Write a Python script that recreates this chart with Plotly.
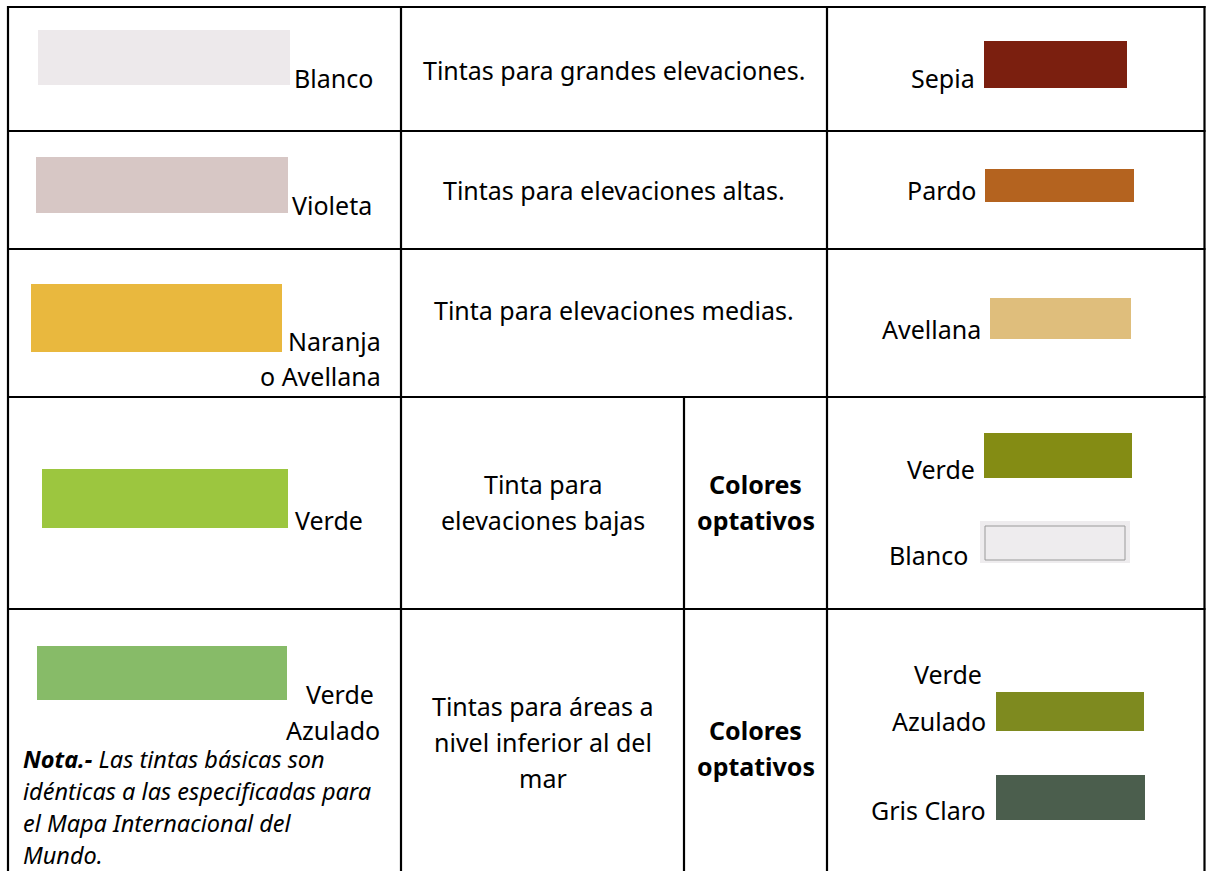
import plotly.graph_objects as go

# ---------------- data ----------------
left_names = [["Blanco"], ["Violeta"], ["Naranja", "o Avellana"], ["Verde"], ["Verde", "Azulado"]]
left_colors = ["#EDE9EB", "#D7C7C5", "#E9B83E", "#9CC63F", "#87BB68"]
descriptions = [
    ["Tintas para grandes elevaciones."],
    ["Tintas para elevaciones altas."],
    ["Tinta para elevaciones medias."],
    ["Tinta para", "elevaciones bajas"],
    ["Tintas para áreas a", "nivel inferior al del", "mar"],
]
optional_label = ["Colores", "optativos"]
right_names = [["Sepia"], ["Pardo"], ["Avellana"], ["Verde"], ["Blanco"], ["Verde", "Azulado"], ["Gris Claro"]]
right_colors = ["#7B1F0F", "#B4631F", "#DFBE7C", "#848C14", "#EEECEE", "#7E8A1F", "#4B5E4D"]
note_lines = [
    ("Nota.-", " Las tintas básicas son"),
    ("", "idénticas a las especificadas para"),
    ("", "el Mapa Internacional del"),
    ("", "Mundo."),
]

# ---------------- layout geometry ----------------
W, H = 1206, 871
FONT = "Noto Sans"
FS = 25
NOTE_FS = 23.5
row_lines = [7, 131, 249, 397, 609]
col_x = [8, 401, 827, 1204.5]
split_x = 684

left_boxes = [(38, 30, 290, 85), (36, 157, 288, 213), (31, 284, 282, 352),
              (42, 469, 288, 528), (37, 646, 287, 700)]
# (x, anchor, y_center) for each line
left_text_pos = [[(292, "left", 78.5)], [(290, "left", 206)],
                 [(383, "right", 342), (383, "right", 377)],
                 [(293, "left", 521)],
                 [(376, "right", 694.5), (382, "right", 731)]]
desc_pos = [(614, [70.5]), (614, [191]), (614, [311]), (543, [485, 521]), (543, [707, 743, 779])]
opt_pos = [(755.5, [485, 521]), (755.5, [731, 767])]
right_boxes = [(984, 41, 1127, 88), (985, 169, 1134, 202), (990, 298, 1131, 339),
               (984, 433, 1132, 478), (980, 521, 1130, 563), (996, 692, 1144, 731),
               (996, 775, 1145, 820)]
right_text_pos = [[(977, 79)], [(978, 191)], [(983, 330)], [(977, 470)], [(970, 556)],
                  [(984, 675), (988, 722)], [(988, 811)]]
note_x = 22
note_y = [760, 792, 824, 855.5]

fig = go.Figure()
fig.add_trace(go.Scatter(x=[0, W], y=[0, H], mode="markers", marker=dict(opacity=0),
                         hoverinfo="skip", showlegend=False))

shapes = []
ann = []
DY = -1.0  # offset from cap centre to text box centre


def txt(x, y, s, anchor="center", bold=False, italic=False, size=FS):
    if bold:
        s = "<b>" + s + "</b>"
    if italic:
        s = "<i>" + s + "</i>"
    ann.append(dict(x=x, y=y + DY, xref="x", yref="y", text=s, showarrow=False,
                    xanchor=anchor, yanchor="middle",
                    font=dict(family=FONT, size=size, color="#000000")))


# swatches
for (x0, y0, x1, y1), c in zip(left_boxes, left_colors):
    shapes.append(dict(type="rect", x0=x0, y0=y0, x1=x1, y1=y1, xref="x", yref="y",
                       fillcolor=c, line=dict(width=0), layer="below"))
for i, ((x0, y0, x1, y1), c) in enumerate(zip(right_boxes, right_colors)):
    shapes.append(dict(type="rect", x0=x0, y0=y0, x1=x1, y1=y1, xref="x", yref="y",
                       fillcolor=c, line=dict(width=0), layer="below"))
    if right_names[i] == ["Blanco"]:
        shapes.append(dict(type="rect", x0=x0 + 5, y0=y0 + 5, x1=x1 - 5, y1=y1 - 3,
                           xref="x", yref="y", fillcolor="rgba(0,0,0,0)",
                           line=dict(width=1, color="#9A9A9A"), layer="below"))

# table lines
LW = 2.2
for y in row_lines:
    shapes.append(dict(type="line", x0=col_x[0] - 1, x1=col_x[-1] + 1, y0=y, y1=y, xref="x", yref="y",
                       line=dict(color="black", width=LW)))
for x in col_x:
    shapes.append(dict(type="line", x0=x, x1=x, y0=row_lines[0] - 1, y1=H, xref="x", yref="y",
                       line=dict(color="black", width=LW)))
shapes.append(dict(type="line", x0=split_x, x1=split_x, y0=row_lines[3], y1=H, xref="x", yref="y",
                   line=dict(color="black", width=LW)))

# texts
for names, poss in zip(left_names, left_text_pos):
    for s, (x, a, y) in zip(names, poss):
        txt(x, y, s, anchor=a)
for lines, (cx, ys) in zip(descriptions, desc_pos):
    for s, y in zip(lines, ys):
        txt(cx, y, s)
for cx, ys in opt_pos:
    for s, y in zip(optional_label, ys):
        txt(cx, y, s, bold=True)
for names, poss in zip(right_names, right_text_pos):
    for s, (x, y) in zip(names, poss):
        txt(x, y, s, anchor="right")
for (b, rest), y in zip(note_lines, note_y):
    s = ("<b><i>" + b + "</i></b>" if b else "") + "<i>" + rest + "</i>"
    ann.append(dict(x=note_x, y=y + DY, xref="x", yref="y", text=s, showarrow=False,
                    xanchor="left", yanchor="middle", borderpad=0,
                    font=dict(family=FONT, size=NOTE_FS, color="#000000")))

fig.update_layout(
    width=W, height=H, margin=dict(l=0, r=0, t=0, b=0),
    paper_bgcolor="white", plot_bgcolor="white",
    xaxis=dict(range=[0, W], visible=False, fixedrange=True),
    yaxis=dict(range=[H, 0], visible=False, fixedrange=True),
    shapes=shapes, annotations=ann, showlegend=False,
)
fig.write_html("out.html", config={"displayModeBar": False},
               post_script="document.body.style.margin='0';document.body.style.overflow='hidden';")
